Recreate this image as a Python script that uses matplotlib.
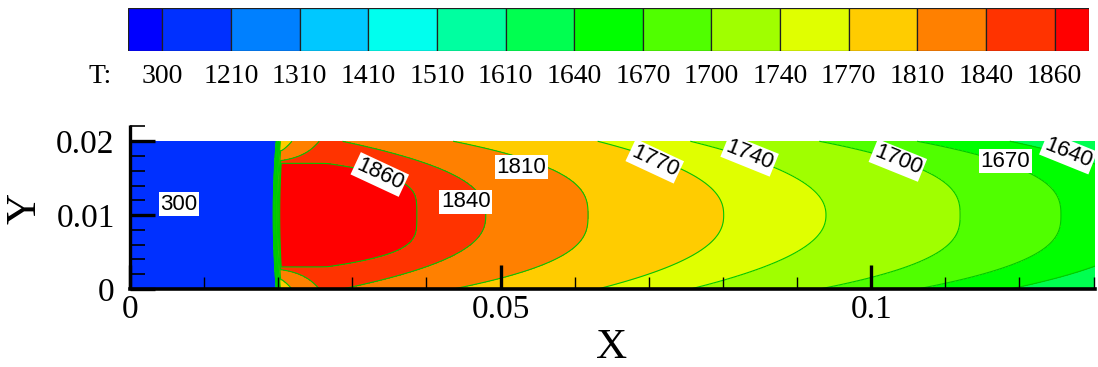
import numpy as np
import matplotlib
matplotlib.use("Agg")
import matplotlib.pyplot as plt
from matplotlib.ticker import FixedLocator, FixedFormatter, MultipleLocator

# ---------------- data ----------------
# legend levels (band boundaries) and the 15 band colours
levels = [300, 1210, 1310, 1410, 1510, 1610, 1640, 1670, 1700, 1740, 1770, 1810, 1840, 1860]
band_colors = ['#0000FF', '#0030FF', '#0080FF', '#00C8FF', '#00FFEE', '#00FFA0', '#00FF50',
               '#00FF00', '#50FF00', '#A0FF00', '#E0FF00', '#FFCC00', '#FF8000', '#FF3300', '#FF0000']

# isotherms downstream of the flame front:
# level, x where it crosses the centre line, setback towards the walls, shape exponent
iso_levels = [1880, 1860, 1840, 1810, 1770, 1740, 1700, 1670, 1640, 1610]
iso_x_center = [0.0300, 0.0387, 0.0480, 0.0618, 0.0801, 0.0939, 0.1120, 0.1256, 0.1377, 0.1560]
iso_setback = [0.0600, 0.0506, 0.0193, 0.0182, 0.0170, 0.0183, 0.0190, 0.0194, 0.0190, 0.0190]
iso_shape = [4.0, 4.0, 2.45, 2.75, 2.3, 2.2, 2.7, 2.7, 2.5, 2.5]

# hot core: flat top/bottom of the 1860 region and the cooled corners near the front
core_level = 1860
core_half_height = 0.70        # |eta| of the flat edge of the red core
corner_start = 0.0205          # x where the red core begins
corner_gap0 = 0.04             # eta gap between 1860 and 1840 lines at the front
corner_growth = 0.0025         # x scale over which that gap widens
corner_step = 20               # 1860 -> 1840
corner_exp = 0.62

# flame front
T_inlet = 301          # the inlet band is just above the 300 level
T_flame = 1900
front_x_center = 0.0193
front_x_wall = 0.0197
front_width = 0.00108
front_sharpness = 0.138

# channel
x_max, y_max = 0.1302, 0.02

# contour labels
clab_text = ['300', '1860', '1840', '1810', '1770', '1740', '1700', '1670', '1640']
clab_x = [0.0066, 0.0337, 0.0453, 0.0528, 0.0708, 0.0836, 0.1036, 0.1181, 0.1266]
clab_y = [0.0115, 0.0155, 0.0118, 0.0165, 0.0173, 0.0181, 0.0174, 0.0173, 0.0184]
clab_rot = [0, -25, 0, 0, -25, -22, -22, 0, -22]

xtick_vals = [0, 0.05, 0.1]
xtick_labels = ['0', '0.05', '0.1']
ytick_vals = [0, 0.01, 0.02]
ytick_labels = ['0', '0.01', '0.02']

# ---------------- build the temperature field ----------------
x = np.linspace(0, x_max, 2600)
y = np.linspace(0, y_max, 297)
X, Y = np.meshgrid(x, y)
eta = (Y - y_max / 2) / (y_max / 2)
aeta = np.abs(eta)

T_right = np.empty_like(X)
for j in range(len(y)):
    e = aeta[j, 0]
    xl = [xc - d * e ** p for xc, d, p in zip(iso_x_center, iso_setback, iso_shape)]
    T_right[j] = np.interp(x, xl, iso_levels)

gap = corner_gap0 * np.exp(np.clip((X - corner_start) / corner_growth, 0, 40))
T_corner = np.where(aeta > core_half_height,
                    core_level - corner_step *
                    (np.clip(aeta - core_half_height, 0, None) / gap) ** corner_exp,
                    1e9)

xf = front_x_center + (front_x_wall - front_x_center) * eta ** 2
d = np.clip((X - xf) / front_width, 0, 1)
T_front = np.where(X <= xf, T_inlet, T_inlet + (T_flame - T_inlet) * d ** front_sharpness)

T = np.minimum(np.minimum(T_front, T_right), T_corner)

# ---------------- figure ----------------
W, H = 1098, 367
fig = plt.figure(figsize=(W / 100, H / 100), dpi=100)
serif = 'Liberation Serif'
sans = 'Liberation Sans'

# main axes (pixel layout)
ax_l, ax_r, ax_b, ax_t = 130, 1095, 289, 125
ax = fig.add_axes([ax_l / W, 1 - ax_b / H, (ax_r - ax_l) / W, (ax_b - ax_t) / H])
ax.set_xlim(0, x_max)
ax.set_ylim(0, 0.0222)

fill_levels = [-1e9] + levels + [1e9]
ax.contourf(X, Y, T, levels=fill_levels, colors=band_colors, zorder=0.5)
ax.contour(X, Y, T, levels=levels, colors='#00C800', linewidths=0.8, zorder=0.6)

for t, lx, ly, r in zip(clab_text, clab_x, clab_y, clab_rot):
    ax.text(lx, ly, t, fontsize=16, family=sans, rotation=r, ha='center', va='center',
            rotation_mode='anchor', zorder=3, clip_on=True,
            bbox=dict(boxstyle='square,pad=0.08', fc='white', ec='none'))

for side in ['top', 'right']:
    ax.spines[side].set_visible(False)
ax.spines['left'].set_linewidth(2.4)
ax.spines['bottom'].set_linewidth(2.6)
ax.spines['left'].set_capstyle('butt')

ax.xaxis.set_major_locator(FixedLocator(xtick_vals))
ax.xaxis.set_major_formatter(FixedFormatter(xtick_labels))
ax.yaxis.set_major_locator(FixedLocator(ytick_vals))
ax.yaxis.set_major_formatter(FixedFormatter(ytick_labels))
ax.xaxis.set_minor_locator(MultipleLocator(0.01))
ax.yaxis.set_minor_locator(MultipleLocator(0.002))

ax.tick_params(axis='x', which='major', direction='in', length=17, width=2.4, pad=4,
               labelsize=24, top=False)
ax.tick_params(axis='x', which='minor', direction='in', length=9, width=1.0, top=False)
ax.tick_params(axis='y', which='major', direction='in', length=18, width=2.4, pad=11,
               labelsize=24, right=False)
ax.tick_params(axis='y', which='minor', direction='in', length=11, width=1.2, right=False)
for lab in ax.get_xticklabels() + ax.get_yticklabels():
    lab.set_family(serif)

fig.text(612 / W, 1 - 348 / H, 'X', fontsize=31, family=serif, ha='center', va='center')
fig.text(25 / W, 1 - 208 / H, 'Y', fontsize=31, family=serif, ha='center', va='center',
         rotation=90)

# colour legend bar
cb_l, cb_r, cb_b, cb_t = 128, 1089, 51, 8
cax = fig.add_axes([cb_l / W, 1 - cb_b / H, (cb_r - cb_l) / W, (cb_b - cb_t) / H])
n = len(band_colors)
bounds = [0] + [i + 0.5 for i in range(n - 1)] + [n - 1]
lefts = bounds[:-1]
widths = [b2 - b1 for b1, b2 in zip(bounds[:-1], bounds[1:])]
cax.bar(lefts, [1] * n, width=widths, align='edge', color=band_colors,
        edgecolor='#202020', linewidth=0.9)
cax.set_xlim(0, n - 1)
cax.set_ylim(0, 1)
cax.axis('off')
for b, lev in zip(bounds[1:-1], levels):
    cax.text(b, -0.6, str(lev), fontsize=20, family=serif, ha='center', va='center',
             clip_on=False)
cax.text(-0.41, -0.6, 'T:', fontsize=20, family=serif, ha='center', va='center',
         clip_on=False)

fig.savefig('out.png', dpi=100)
